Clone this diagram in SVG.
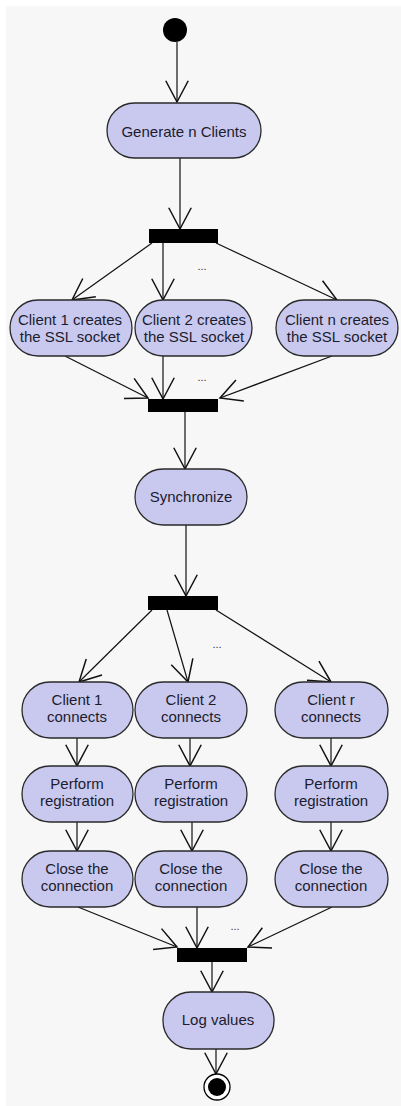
<svg xmlns="http://www.w3.org/2000/svg" width="401" height="1106" viewBox="0 0 401 1106">
<defs>
<marker id="arr" markerUnits="userSpaceOnUse" markerWidth="30" markerHeight="30" viewBox="-20 -12 24 24" refX="0" refY="0" orient="auto">
<path d="M-17,-9 L0,0 L-17,9" fill="none" stroke="#111" stroke-width="1.2"/>
</marker>
<style>
.act{fill:#c9c9f0;stroke:#2a2a2a;stroke-width:1.3}
.bar{fill:#000}
.t{font-family:"Liberation Sans",Arial,sans-serif;font-size:15px;fill:#1c1c2e;text-anchor:middle}
.c{stroke:#111;stroke-width:1.2;fill:none;marker-end:url(#arr)}
.d{font-family:"Liberation Sans",Arial,sans-serif;font-size:11px;fill:#333;text-anchor:middle}
</style>
</defs>
<rect x="0" y="0" width="401" height="1106" fill="#ffffff"/>
<rect x="6" y="6" width="395" height="1100" fill="#f7f7f7"/>

<g id="connectors">
<line class="c" x1="177" y1="42" x2="177" y2="102"/>
<line class="c" x1="180" y1="158" x2="180" y2="229"/>
<line class="c" x1="152" y1="243" x2="72" y2="300"/>
<line class="c" x1="163" y1="243" x2="163" y2="300"/>
<line class="c" x1="216" y1="243" x2="337" y2="300"/>
<line class="c" x1="65" y1="356" x2="148" y2="398"/>
<line class="c" x1="163" y1="356" x2="163" y2="399"/>
<line class="c" x1="332" y1="356" x2="220" y2="398"/>
<line class="c" x1="185" y1="412" x2="185" y2="469"/>
<line class="c" x1="186" y1="525" x2="186" y2="596"/>
<line class="c" x1="152" y1="610" x2="79" y2="682"/>
<line class="c" x1="167" y1="610" x2="188" y2="682"/>
<line class="c" x1="216" y1="610" x2="331" y2="682"/>
<line class="c" x1="77" y1="738" x2="77" y2="766"/>
<line class="c" x1="190" y1="738" x2="190" y2="766"/>
<line class="c" x1="331" y1="738" x2="331" y2="766"/>
<line class="c" x1="77" y1="822" x2="77" y2="851"/>
<line class="c" x1="192" y1="822" x2="192" y2="851"/>
<line class="c" x1="331" y1="822" x2="331" y2="851"/>
<line class="c" x1="78" y1="907" x2="177" y2="947"/>
<line class="c" x1="197" y1="907" x2="197" y2="948"/>
<line class="c" x1="332" y1="907" x2="248" y2="947"/>
<line class="c" x1="212" y1="962" x2="212" y2="992"/>
<line class="c" x1="216" y1="1049" x2="216" y2="1074"/>
<text class="d" x="202" y="270">...</text>
<text class="d" x="202" y="381">...</text>
<text class="d" x="217" y="648">...</text>
<text class="d" x="235" y="930">...</text>
</g>

<g id="start"><circle cx="175" cy="30" r="12" fill="#000"/></g>

<g id="generate"><rect class="act" x="107" y="103" width="154" height="55" rx="27.5"/><text class="t" x="184" y="137">Generate n Clients</text></g>

<g id="fork1"><rect class="bar" x="149" y="229" width="69" height="14"/></g>

<g id="client1ssl"><rect class="act" x="10" y="300" width="122" height="56" rx="28"/><text class="t" x="70" y="325">Client 1 creates</text><text class="t" x="70" y="342">the SSL socket</text></g>
<g id="client2ssl"><rect class="act" x="135" y="300" width="117" height="56" rx="28"/><text class="t" x="194" y="325">Client 2 creates</text><text class="t" x="194" y="342">the SSL socket</text></g>
<g id="clientnssl"><rect class="act" x="276" y="300" width="122" height="56" rx="28"/><text class="t" x="337" y="325">Client n creates</text><text class="t" x="337" y="342">the SSL socket</text></g>

<g id="join1"><rect class="bar" x="148" y="399" width="70" height="13"/></g>

<g id="synchronize"><rect class="act" x="135" y="469" width="112" height="56" rx="28"/><text class="t" x="191" y="502">Synchronize</text></g>

<g id="fork2"><rect class="bar" x="148" y="596" width="70" height="14"/></g>

<g id="connect1"><rect class="act" x="22" y="682" width="111" height="56" rx="28"/><text class="t" x="77" y="705">Client 1</text><text class="t" x="77" y="722">connects</text></g>
<g id="connect2"><rect class="act" x="135" y="682" width="112" height="56" rx="28"/><text class="t" x="191" y="705">Client 2</text><text class="t" x="191" y="722">connects</text></g>
<g id="connectr"><rect class="act" x="275" y="682" width="113" height="56" rx="28"/><text class="t" x="331" y="705">Client r</text><text class="t" x="331" y="722">connects</text></g>

<g id="register1"><rect class="act" x="22" y="766" width="111" height="56" rx="28"/><text class="t" x="77" y="789">Perform</text><text class="t" x="77" y="806">registration</text></g>
<g id="register2"><rect class="act" x="135" y="766" width="112" height="56" rx="28"/><text class="t" x="191" y="789">Perform</text><text class="t" x="191" y="806">registration</text></g>
<g id="registerr"><rect class="act" x="275" y="766" width="113" height="56" rx="28"/><text class="t" x="331" y="789">Perform</text><text class="t" x="331" y="806">registration</text></g>

<g id="close1"><rect class="act" x="22" y="851" width="111" height="56" rx="28"/><text class="t" x="77" y="874">Close the</text><text class="t" x="77" y="891">connection</text></g>
<g id="close2"><rect class="act" x="135" y="851" width="112" height="56" rx="28"/><text class="t" x="191" y="874">Close the</text><text class="t" x="191" y="891">connection</text></g>
<g id="closer"><rect class="act" x="275" y="851" width="113" height="56" rx="28"/><text class="t" x="331" y="874">Close the</text><text class="t" x="331" y="891">connection</text></g>

<g id="join2"><rect class="bar" x="177" y="948" width="70" height="14"/></g>

<g id="logvalues"><rect class="act" x="163" y="992" width="111" height="57" rx="28"/><text class="t" x="218" y="1025">Log values</text></g>

<g id="end"><circle cx="217" cy="1087" r="13" fill="#fff" stroke="#000" stroke-width="1.3"/><circle cx="217" cy="1087" r="9" fill="#000"/></g>
</svg>
